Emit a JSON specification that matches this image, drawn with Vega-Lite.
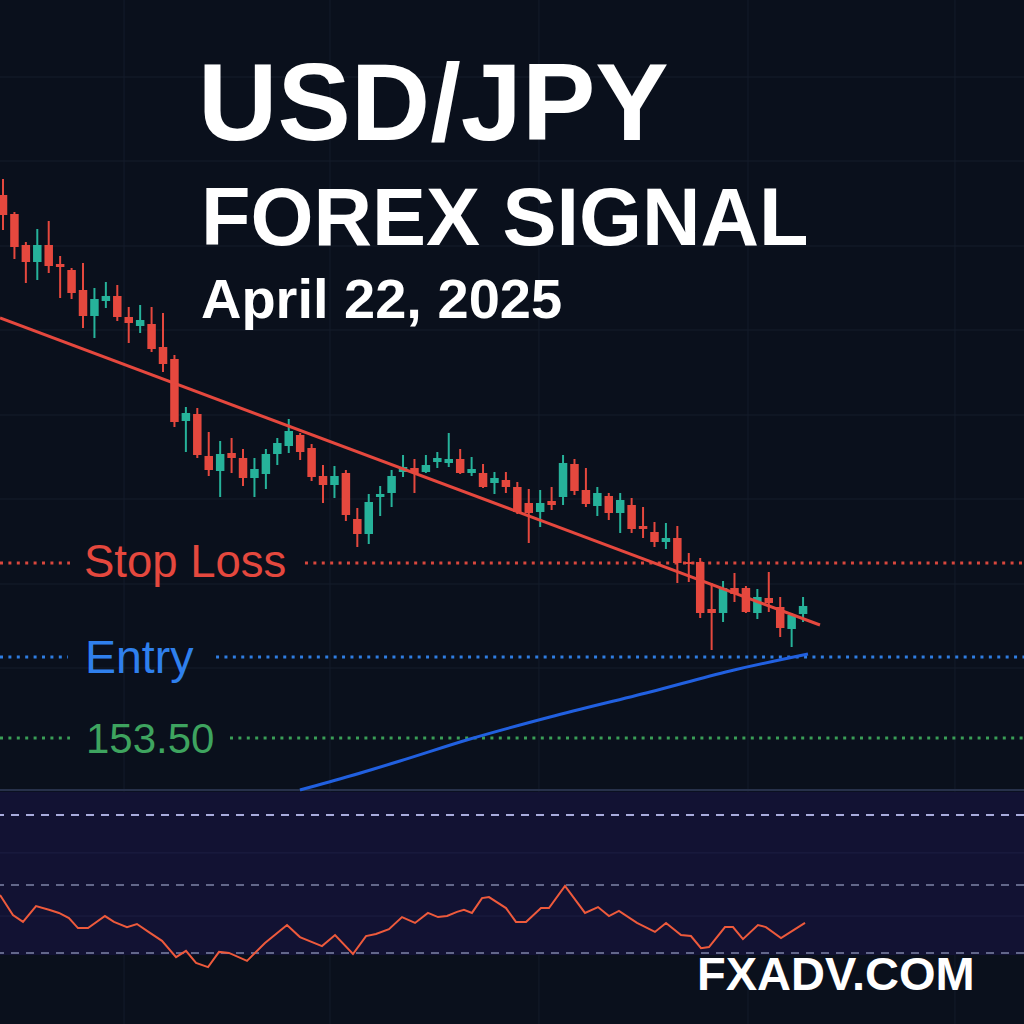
{
  "$schema": "https://vega.github.io/schema/vega-lite/v6.json",
  "width": 1024,
  "height": 1024,
  "autosize": {"type": "none"},
  "padding": 0,
  "background": "#0a101c",
  "config": {"view": {"stroke": null}, "axis": {"disable": true}, "text": {"font": "Liberation Sans"}},
  "datasets": {
    "candles": [
      {"i":1,"o":158.93,"h":159.09,"l":158.58,"c":158.73},
      {"i":2,"o":158.74,"h":158.76,"l":158.29,"c":158.41},
      {"i":3,"o":158.43,"h":158.46,"l":158.05,"c":158.26},
      {"i":4,"o":158.26,"h":158.59,"l":158.08,"c":158.43},
      {"i":5,"o":158.43,"h":158.67,"l":158.15,"c":158.22},
      {"i":6,"o":158.24,"h":158.32,"l":157.90,"c":158.21},
      {"i":7,"o":158.18,"h":158.20,"l":157.89,"c":157.95},
      {"i":8,"o":157.98,"h":158.25,"l":157.60,"c":157.72},
      {"i":9,"o":157.72,"h":158.00,"l":157.50,"c":157.89},
      {"i":10,"o":157.87,"h":158.06,"l":157.80,"c":157.92},
      {"i":11,"o":157.92,"h":158.03,"l":157.67,"c":157.71},
      {"i":12,"o":157.71,"h":157.81,"l":157.45,"c":157.65},
      {"i":13,"o":157.62,"h":157.83,"l":157.55,"c":157.68},
      {"i":14,"o":157.64,"h":157.81,"l":157.36,"c":157.39},
      {"i":15,"o":157.41,"h":157.75,"l":157.16,"c":157.24},
      {"i":16,"o":157.29,"h":157.33,"l":156.61,"c":156.66},
      {"i":17,"o":156.67,"h":156.81,"l":156.36,"c":156.75},
      {"i":18,"o":156.74,"h":156.80,"l":156.30,"c":156.33},
      {"i":19,"o":156.32,"h":156.56,"l":156.12,"c":156.18},
      {"i":20,"o":156.17,"h":156.47,"l":155.91,"c":156.34},
      {"i":21,"o":156.35,"h":156.50,"l":156.15,"c":156.30},
      {"i":22,"o":156.30,"h":156.39,"l":156.02,"c":156.10},
      {"i":23,"o":156.10,"h":156.30,"l":155.91,"c":156.19},
      {"i":24,"o":156.14,"h":156.39,"l":155.99,"c":156.34},
      {"i":25,"o":156.34,"h":156.50,"l":156.23,"c":156.45},
      {"i":26,"o":156.42,"h":156.69,"l":156.35,"c":156.57},
      {"i":27,"o":156.53,"h":156.55,"l":156.28,"c":156.36},
      {"i":28,"o":156.40,"h":156.44,"l":156.07,"c":156.11},
      {"i":29,"o":156.12,"h":156.23,"l":155.85,"c":156.03},
      {"i":30,"o":156.03,"h":156.22,"l":155.90,"c":156.12},
      {"i":31,"o":156.15,"h":156.18,"l":155.67,"c":155.73},
      {"i":32,"o":155.69,"h":155.80,"l":155.41,"c":155.54},
      {"i":33,"o":155.54,"h":155.94,"l":155.44,"c":155.86},
      {"i":34,"o":155.91,"h":156.02,"l":155.72,"c":155.94},
      {"i":35,"o":155.95,"h":156.18,"l":155.81,"c":156.12},
      {"i":36,"o":156.16,"h":156.33,"l":156.11,"c":156.21},
      {"i":37,"o":156.20,"h":156.29,"l":155.95,"c":156.15},
      {"i":38,"o":156.16,"h":156.33,"l":156.15,"c":156.23},
      {"i":39,"o":156.26,"h":156.36,"l":156.20,"c":156.30},
      {"i":40,"o":156.25,"h":156.55,"l":156.21,"c":156.29},
      {"i":41,"o":156.29,"h":156.39,"l":156.14,"c":156.15},
      {"i":42,"o":156.15,"h":156.31,"l":156.12,"c":156.19},
      {"i":43,"o":156.15,"h":156.24,"l":156.00,"c":156.01},
      {"i":44,"o":156.05,"h":156.16,"l":155.94,"c":156.10},
      {"i":45,"o":156.08,"h":156.16,"l":155.95,"c":156.01},
      {"i":46,"o":156.01,"h":156.06,"l":155.74,"c":155.76},
      {"i":47,"o":155.85,"h":155.99,"l":155.45,"c":155.75},
      {"i":48,"o":155.76,"h":155.98,"l":155.61,"c":155.85},
      {"i":49,"o":155.87,"h":156.01,"l":155.78,"c":155.83},
      {"i":50,"o":155.91,"h":156.33,"l":155.83,"c":156.25},
      {"i":51,"o":156.24,"h":156.29,"l":155.93,"c":155.97},
      {"i":52,"o":155.98,"h":156.20,"l":155.81,"c":155.84},
      {"i":53,"o":155.82,"h":156.01,"l":155.72,"c":155.95},
      {"i":54,"o":155.92,"h":155.95,"l":155.68,"c":155.75},
      {"i":55,"o":155.75,"h":155.95,"l":155.55,"c":155.88},
      {"i":56,"o":155.83,"h":155.90,"l":155.55,"c":155.59},
      {"i":57,"o":155.62,"h":155.81,"l":155.50,"c":155.59},
      {"i":58,"o":155.56,"h":155.66,"l":155.41,"c":155.46},
      {"i":59,"o":155.46,"h":155.65,"l":155.39,"c":155.50},
      {"i":60,"o":155.50,"h":155.62,"l":155.05,"c":155.25},
      {"i":61,"o":155.26,"h":155.35,"l":155.06,"c":155.24},
      {"i":62,"o":155.26,"h":155.30,"l":154.70,"c":154.75},
      {"i":63,"o":154.79,"h":155.05,"l":154.38,"c":154.75},
      {"i":64,"o":154.75,"h":155.07,"l":154.66,"c":155.00},
      {"i":65,"o":155.00,"h":155.15,"l":154.86,"c":154.94},
      {"i":66,"o":155.00,"h":155.02,"l":154.75,"c":154.76},
      {"i":67,"o":154.75,"h":154.99,"l":154.69,"c":154.91},
      {"i":68,"o":154.90,"h":155.16,"l":154.76,"c":154.85},
      {"i":69,"o":154.81,"h":154.91,"l":154.51,"c":154.60},
      {"i":70,"o":154.59,"h":154.75,"l":154.41,"c":154.73},
      {"i":71,"o":154.74,"h":154.91,"l":154.66,"c":154.82}
    ],
    "rsi": [
      {"i":0.74,"r":47.1},{"i":1.87,"r":41.3},{"i":2.75,"r":39.3},{"i":3.89,"r":43.9},{"i":5.02,"r":42.8},
      {"i":5.90,"r":41.9},{"i":6.77,"r":40.4},{"i":7.56,"r":37.5},{"i":8.44,"r":37.5},{"i":9.92,"r":41.0},
      {"i":10.71,"r":39.3},{"i":11.85,"r":37.8},{"i":12.72,"r":38.7},{"i":13.86,"r":36.1},{"i":14.91,"r":33.8},
      {"i":16.14,"r":29.1},{"i":17.01,"r":30.9},{"i":17.89,"r":27.4},{"i":18.94,"r":26.2},{"i":19.90,"r":30.6},
      {"i":20.77,"r":30.3},{"i":22.35,"r":28.0},{"i":23.92,"r":33.2},{"i":25.85,"r":38.4},{"i":26.98,"r":34.9},
      {"i":28.91,"r":32.3},{"i":30.05,"r":35.5},{"i":31.62,"r":30.0},{"i":32.76,"r":35.2},{"i":33.63,"r":35.8},
      {"i":34.77,"r":37.2},{"i":35.91,"r":40.7},{"i":37.05,"r":39.0},{"i":38.18,"r":41.9},{"i":39.06,"r":40.7},
      {"i":39.85,"r":41.0},{"i":40.72,"r":42.2},{"i":41.33,"r":42.8},{"i":42.03,"r":41.9},{"i":42.91,"r":46.2},
      {"i":43.52,"r":46.5},{"i":45.01,"r":43.3},{"i":45.88,"r":39.3},{"i":46.76,"r":39.3},{"i":48.07,"r":43.3},
      {"i":48.77,"r":43.3},{"i":50.17,"r":49.7},{"i":51.92,"r":41.9},{"i":53.06,"r":43.6},{"i":54.02,"r":41.0},
      {"i":54.89,"r":42.5},{"i":56.47,"r":39.0},{"i":58.04,"r":36.4},{"i":59.01,"r":39.0},{"i":60.32,"r":35.5},
      {"i":61.19,"r":35.2},{"i":62.07,"r":31.7},{"i":62.77,"r":32.0},{"i":64.17,"r":37.8},{"i":64.87,"r":37.8},
      {"i":65.74,"r":34.3},{"i":67.05,"r":38.4},{"i":67.75,"r":37.8},{"i":69.07,"r":34.6},{"i":70.20,"r":37.0},
      {"i":71.17,"r":39.0}
    ]
  },
  "resolve": {"scale": {"y": "independent"}},
  "layer": [
    {
      "layer": [
        {
          "data": {"values": [{"i":11.59},{"i":29.61},{"i":47.89},{"i":66.18},{"i":84.29}]},
          "mark": {"type": "rule", "color": "#141c2b", "strokeWidth": 1},
          "encoding": {"x": {"field": "i", "type": "quantitative", "scale": {"domain": [0.7375, 90.33], "nice": false, "zero": false}, "axis": null}}
        },
        {
          "data": {"values": [{"p":160.11},{"p":159.27},{"p":158.42},{"p":157.58},{"p":156.73},{"p":155.89},{"p":155.04},{"p":154.20}]},
          "mark": {"type": "rule", "color": "#141c2b", "strokeWidth": 1},
          "encoding": {"y": {"field": "p", "type": "quantitative", "scale": {"domain": [150.64, 160.88], "nice": false, "zero": false}, "axis": null}}
        },
        {
          "data": {"values": [{"p":152.98}]},
          "mark": {"type": "rule", "color": "#27314a", "strokeWidth": 2},
          "encoding": {"y": {"field": "p", "type": "quantitative", "scale": {"domain": [150.64, 160.88], "nice": false, "zero": false}, "axis": null}}
        },
        {
          "data": {"values": [
            {"lvl":"Stop Loss","p":155.25,"a":0.7375,"b":6.86},
            {"lvl":"Stop Loss","p":155.25,"a":27.42,"b":90.33}
          ]},
          "mark": {"type": "rule", "strokeWidth": 3, "strokeDash": [3, 5.4], "color": "#d9473d"},
          "encoding": {
            "x": {"field": "a", "type": "quantitative", "scale": {"domain": [0.7375, 90.33], "nice": false, "zero": false}, "axis": null},
            "x2": {"field": "b"},
            "y": {"field": "p", "type": "quantitative", "scale": {"domain": [150.64, 160.88], "nice": false, "zero": false}, "axis": null}
          }
        },
        {
          "data": {"values": [
            {"lvl":"Entry","p":154.31,"a":0.7375,"b":6.69},
            {"lvl":"Entry","p":154.31,"a":19.64,"b":90.33}
          ]},
          "mark": {"type": "rule", "strokeWidth": 3, "strokeDash": [3, 5.4], "color": "#2f7de1"},
          "encoding": {
            "x": {"field": "a", "type": "quantitative", "scale": {"domain": [0.7375, 90.33], "nice": false, "zero": false}, "axis": null},
            "x2": {"field": "b"},
            "y": {"field": "p", "type": "quantitative", "scale": {"domain": [150.64, 160.88], "nice": false, "zero": false}, "axis": null}
          }
        },
        {
          "data": {"values": [
            {"lvl":"153.50","p":153.50,"a":0.7375,"b":6.86},
            {"lvl":"153.50","p":153.50,"a":20.86,"b":90.33}
          ]},
          "mark": {"type": "rule", "strokeWidth": 3, "strokeDash": [3, 5.4], "color": "#3a9e57"},
          "encoding": {
            "x": {"field": "a", "type": "quantitative", "scale": {"domain": [0.7375, 90.33], "nice": false, "zero": false}, "axis": null},
            "x2": {"field": "b"},
            "y": {"field": "p", "type": "quantitative", "scale": {"domain": [150.64, 160.88], "nice": false, "zero": false}, "axis": null}
          }
        },
        {
          "data": {"name": "candles"},
          "mark": {"type": "rule", "strokeWidth": 2},
          "encoding": {
            "x": {"field": "i", "type": "quantitative", "scale": {"domain": [0.7375, 90.33], "nice": false, "zero": false}, "axis": null},
            "y": {"field": "h", "type": "quantitative", "scale": {"domain": [150.64, 160.88], "nice": false, "zero": false}, "axis": null},
            "y2": {"field": "l"},
            "color": {"condition": {"test": "datum.c < datum.o", "value": "#e5483e"}, "value": "#26b29a"}
          }
        },
        {
          "data": {"name": "candles"},
          "mark": {"type": "rule", "strokeWidth": 8.5},
          "encoding": {
            "x": {"field": "i", "type": "quantitative", "scale": {"domain": [0.7375, 90.33], "nice": false, "zero": false}, "axis": null},
            "y": {"field": "o", "type": "quantitative", "scale": {"domain": [150.64, 160.88], "nice": false, "zero": false}, "axis": null},
            "y2": {"field": "c"},
            "color": {"condition": {"test": "datum.c < datum.o", "value": "#e5483e"}, "value": "#26b29a"}
          }
        },
        {
          "data": {"values": [{"i":0.74,"p":157.70},{"i":72.48,"p":154.63}]},
          "mark": {"type": "line", "color": "#e5483e", "strokeWidth": 3},
          "encoding": {
            "x": {"field": "i", "type": "quantitative", "scale": {"domain": [0.7375, 90.33], "nice": false, "zero": false}, "axis": null},
            "y": {"field": "p", "type": "quantitative", "scale": {"domain": [150.64, 160.88], "nice": false, "zero": false}, "axis": null}
          }
        },
        {
          "data": {"values": [
            {"i":26.98,"p":152.98},{"i":31.36,"p":153.12},{"i":35.73,"p":153.27},{"i":41.86,"p":153.49},
            {"i":48.86,"p":153.71},{"i":57.61,"p":153.96},{"i":64.61,"p":154.17},{"i":71.43,"p":154.34}
          ]},
          "mark": {"type": "line", "color": "#2160e0", "strokeWidth": 3, "interpolate": "monotone"},
          "encoding": {
            "x": {"field": "i", "type": "quantitative", "scale": {"domain": [0.7375, 90.33], "nice": false, "zero": false}, "axis": null},
            "y": {"field": "p", "type": "quantitative", "scale": {"domain": [150.64, 160.88], "nice": false, "zero": false}, "axis": null}
          }
        },
        {
          "data": {"values": [{"t":"USD/JPY","i":18.06,"p":159.48}]},
          "mark": {"type": "text", "align": "left", "baseline": "alphabetic", "fontSize": 110, "fontWeight": "bold", "color": "#ffffff"},
          "encoding": {
            "x": {"field": "i", "type": "quantitative", "scale": {"domain": [0.7375, 90.33], "nice": false, "zero": false}, "axis": null},
            "y": {"field": "p", "type": "quantitative", "scale": {"domain": [150.64, 160.88], "nice": false, "zero": false}, "axis": null},
            "text": {"field": "t"}
          }
        },
        {
          "data": {"values": [{"t":"FOREX SIGNAL","i":18.32,"p":158.43}]},
          "mark": {"type": "text", "align": "left", "baseline": "alphabetic", "fontSize": 81, "fontWeight": "bold", "color": "#ffffff"},
          "encoding": {
            "x": {"field": "i", "type": "quantitative", "scale": {"domain": [0.7375, 90.33], "nice": false, "zero": false}, "axis": null},
            "y": {"field": "p", "type": "quantitative", "scale": {"domain": [150.64, 160.88], "nice": false, "zero": false}, "axis": null},
            "text": {"field": "t"}
          }
        },
        {
          "data": {"values": [{"t":"April 22, 2025","i":18.32,"p":157.70}]},
          "mark": {"type": "text", "align": "left", "baseline": "alphabetic", "fontSize": 56, "fontWeight": "bold", "color": "#ffffff"},
          "encoding": {
            "x": {"field": "i", "type": "quantitative", "scale": {"domain": [0.7375, 90.33], "nice": false, "zero": false}, "axis": null},
            "y": {"field": "p", "type": "quantitative", "scale": {"domain": [150.64, 160.88], "nice": false, "zero": false}, "axis": null},
            "text": {"field": "t"}
          }
        },
        {
          "data": {"values": [{"t":"Stop Loss","i":8.08,"p":155.11}]},
          "mark": {"type": "text", "align": "left", "baseline": "alphabetic", "fontSize": 45.5, "color": "#e5483e"},
          "encoding": {
            "x": {"field": "i", "type": "quantitative", "scale": {"domain": [0.7375, 90.33], "nice": false, "zero": false}, "axis": null},
            "y": {"field": "p", "type": "quantitative", "scale": {"domain": [150.64, 160.88], "nice": false, "zero": false}, "axis": null},
            "text": {"field": "t"}
          }
        },
        {
          "data": {"values": [{"t":"Entry","i":8.17,"p":154.15}]},
          "mark": {"type": "text", "align": "left", "baseline": "alphabetic", "fontSize": 46.5, "color": "#2f80ed"},
          "encoding": {
            "x": {"field": "i", "type": "quantitative", "scale": {"domain": [0.7375, 90.33], "nice": false, "zero": false}, "axis": null},
            "y": {"field": "p", "type": "quantitative", "scale": {"domain": [150.64, 160.88], "nice": false, "zero": false}, "axis": null},
            "text": {"field": "t"}
          }
        },
        {
          "data": {"values": [{"t":"153.50","i":8.26,"p":153.35}]},
          "mark": {"type": "text", "align": "left", "baseline": "alphabetic", "fontSize": 42, "color": "#3ea45f"},
          "encoding": {
            "x": {"field": "i", "type": "quantitative", "scale": {"domain": [0.7375, 90.33], "nice": false, "zero": false}, "axis": null},
            "y": {"field": "p", "type": "quantitative", "scale": {"domain": [150.64, 160.88], "nice": false, "zero": false}, "axis": null},
            "text": {"field": "t"}
          }
        }
      ]
    },
    {
      "layer": [
        {
          "data": {"values": [{"top":77.0,"bot":29.7}]},
          "mark": {"type": "rect", "color": "#121233"},
          "encoding": {
            "y": {"field": "top", "type": "quantitative", "scale": {"domain": [9.71, 306.5], "nice": false, "zero": false}, "axis": null},
            "y2": {"field": "bot"}
          }
        },
        {
          "data": {"values": [{"r":59.3},{"r":41.0}]},
          "mark": {"type": "rule", "color": "#1d1f42", "strokeWidth": 1},
          "encoding": {"y": {"field": "r", "type": "quantitative", "scale": {"domain": [9.71, 306.5], "nice": false, "zero": false}, "axis": null}}
        },
        {
          "data": {"values": [{"r":70.3}]},
          "mark": {"type": "rule", "strokeWidth": 2, "strokeDash": [8, 7], "color": "#a7abdc"},
          "encoding": {
            "y": {"field": "r", "type": "quantitative", "scale": {"domain": [9.71, 306.5], "nice": false, "zero": false}, "axis": null}
          }
        },
        {
          "data": {"values": [{"r":50},{"r":30.3}]},
          "mark": {"type": "rule", "strokeWidth": 2, "strokeDash": [8, 7], "color": "#62678a"},
          "encoding": {
            "y": {"field": "r", "type": "quantitative", "scale": {"domain": [9.71, 306.5], "nice": false, "zero": false}, "axis": null}
          }
        },
        {
          "data": {"name": "rsi"},
          "mark": {"type": "line", "color": "#ee5a3c", "strokeWidth": 2},
          "encoding": {
            "x": {"field": "i", "type": "quantitative", "scale": {"domain": [0.7375, 90.33], "nice": false, "zero": false}, "axis": null},
            "y": {"field": "r", "type": "quantitative", "scale": {"domain": [9.71, 306.5], "nice": false, "zero": false}, "axis": null}
          }
        },
        {
          "data": {"values": [{"t":"FXADV.COM","i":61.72,"r":19.57}]},
          "mark": {"type": "text", "align": "left", "baseline": "alphabetic", "fontSize": 47, "fontWeight": "bold", "color": "#ffffff"},
          "encoding": {
            "x": {"field": "i", "type": "quantitative", "scale": {"domain": [0.7375, 90.33], "nice": false, "zero": false}, "axis": null},
            "y": {"field": "r", "type": "quantitative", "scale": {"domain": [9.71, 306.5], "nice": false, "zero": false}, "axis": null},
            "text": {"field": "t"}
          }
        }
      ]
    }
  ]
}
